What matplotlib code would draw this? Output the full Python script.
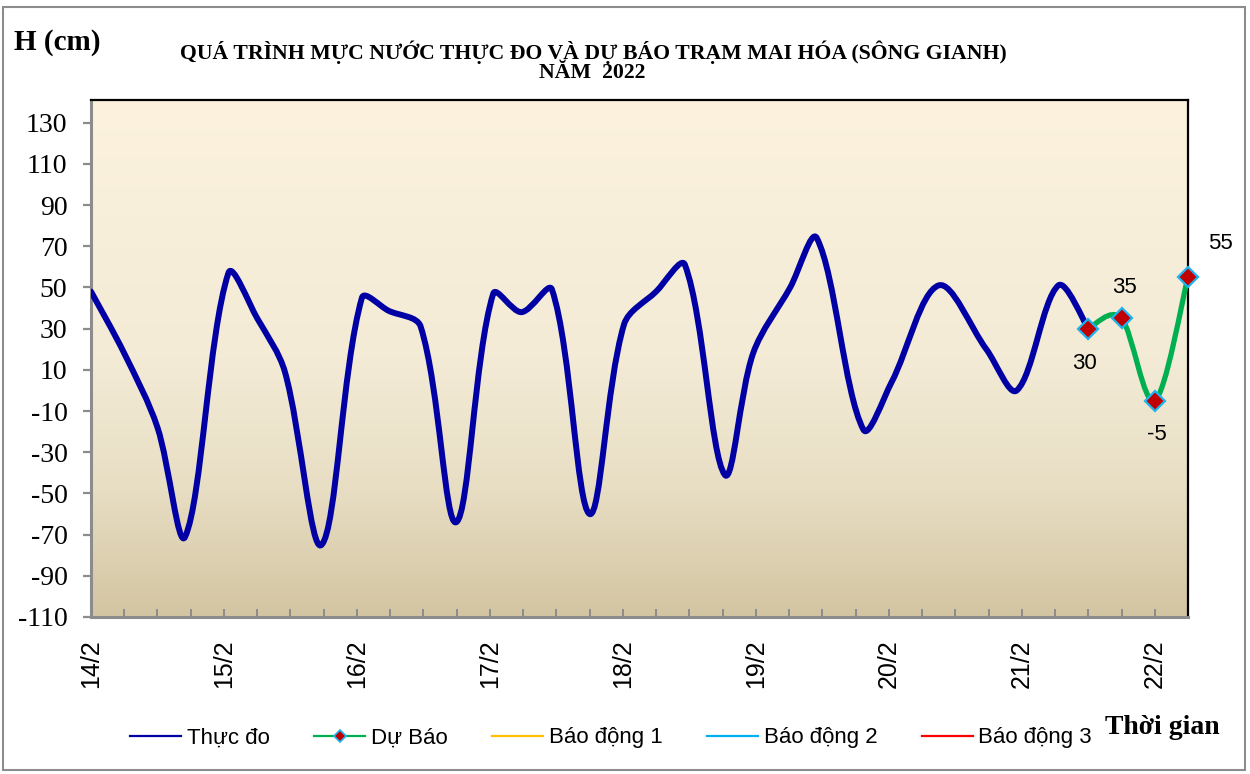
import numpy as np
import matplotlib
matplotlib.use("Agg")
import matplotlib.pyplot as plt
from matplotlib.path import Path
from matplotlib.patches import PathPatch, Rectangle
from matplotlib.lines import Line2D
from matplotlib.colors import LinearSegmentedColormap

# ---------------- data ----------------
# time in hours from 14/2 00:00
obs_hours = [0, 6, 12, 17, 24.8, 30, 35, 41.6, 48.9, 53.7, 59.5, 65.9, 72.6, 77.7,
             83.2, 90, 96.2, 102, 107.2, 114.4, 119.5, 126.2, 131, 139.4, 144.5,
             153, 161.6, 167.1, 174.6, 180]
obs_values = [48, 18, -18, -71, 57, 35, 9, -75, 45, 38.7, 31, -64, 47, 38, 49, -60,
              32, 48, 61, -41, 18, 50, 74, -19, 4, 51, 20, 0, 51, 30]

fc_hours = [180, 186, 192, 198]
fc_values = [30, 35, -5, 55]

day_labels = ["14/2", "15/2", "16/2", "17/2", "18/2", "19/2", "20/2", "21/2", "22/2"]
y_ticks = [130, 110, 90, 70, 50, 30, 10, -10, -30, -50, -70, -90, -110]

legend_labels = ["Thực đo", "Dự Báo", "Báo động 1", "Báo động 2", "Báo động 3"]

title1 = "QUÁ TRÌNH MỰC NƯỚC THỰC ĐO VÀ DỰ BÁO TRẠM MAI HÓA (SÔNG GIANH)"
title2 = "NĂM  2022"

SERIF = ["Liberation Serif", "DejaVu Serif"]
SANS = ["Liberation Sans", "DejaVu Sans"]


def smooth_path(ax, xs, ys, f=1.0 / 6.0, weighted=True):
    """Excel-like smoothed line: cubic Bezier through the points."""
    pts = np.column_stack([xs, ys]).astype(float)
    disp = ax.transData.transform(pts)
    n = len(pts)
    dist = np.hypot(*np.diff(disp, axis=0).T)  # segment lengths in pixels

    def handle(i, seg):
        p_prev = pts[i - 1] if i > 0 else pts[i]
        p_next = pts[i + 1] if i < n - 1 else pts[i]
        scale = 1.0
        if weighted:
            d_prev = dist[i - 1] if i > 0 else dist[i]
            d_next = dist[i] if i < n - 1 else dist[i - 1]
            tot = d_prev + d_next
            scale = 2.0 * dist[seg] / tot if tot > 0 else 1.0
        return (p_next - p_prev) * f * scale

    verts = [pts[0]]
    codes = [Path.MOVETO]
    for i in range(n - 1):
        c1 = pts[i] + handle(i, i)
        c2 = pts[i + 1] - handle(i + 1, i)
        verts += [c1, c2, pts[i + 1]]
        codes += [Path.CURVE4] * 3
    return Path(verts, codes)


W, H = 1250, 774
fig = plt.figure(figsize=(W / 100, H / 100), dpi=100)
fig.patch.set_facecolor("white")

# outer border
fig.patches.append(Rectangle((3 / W, 1 - 770 / H), 1242 / W, 763 / H,
                             transform=fig.transFigure, fill=False,
                             edgecolor="#8c8c8c", lw=1.5))

ax = fig.add_axes([91 / W, 1 - 617 / H, (1188 - 91) / W, (617 - 100) / H])
ax.set_xlim(0, 198)
ax.set_ylim(-110, 141)

# gradient background (top light cream -> bottom tan)
cmap = LinearSegmentedColormap.from_list(
    "bg", [(0.0, (252/255, 242/255, 222/255)),
           (0.5, (243/255, 235/255, 214/255)),
           (0.75, (232/255, 222/255, 196/255)),
           (1.0, (211/255, 197/255, 161/255))])
grad = np.linspace(0, 1, 256).reshape(-1, 1)
ax.imshow(grad, extent=[0, 1, 0, 1], origin="upper", transform=ax.transAxes,
          aspect="auto", cmap=cmap, zorder=0, interpolation="bicubic")

# observed line
ax.add_patch(PathPatch(smooth_path(ax, obs_hours, obs_values), facecolor="none",
                       edgecolor="#0000A5", lw=4.3, capstyle="round",
                       joinstyle="round", zorder=3))
# forecast line
ax.add_patch(PathPatch(smooth_path(ax, fc_hours, fc_values, weighted=False),
                       facecolor="none", edgecolor="#00B050", lw=3.8,
                       capstyle="round", joinstyle="round", zorder=4))
ax.plot(fc_hours, fc_values, linestyle="none", marker="D", markersize=10,
        markerfacecolor="#C00000", markeredgecolor="#1EB4F0",
        markeredgewidth=1.6, zorder=5, clip_on=False)

# data labels
offsets = [(-3, -25), (2, 22), (1.5, -24), (23, 24)]
for h, v, off in zip(fc_hours, fc_values, offsets):
    ax.annotate(f"{v}", (h, v), xytext=off, textcoords="offset points",
                ha="center", va="center", fontsize=16, family=SANS,
                color="black", zorder=6, annotation_clip=False)

# spines
for s in ["left", "bottom"]:
    ax.spines[s].set_color("#8c8c8c")
    ax.spines[s].set_linewidth(2.2)
for s in ["top", "right"]:
    ax.spines[s].set_color("black")
    ax.spines[s].set_linewidth(1.6)

ax.set_yticks(y_ticks)
ax.set_yticklabels([str(t) for t in y_ticks], family=SERIF, fontsize=20)
ax.tick_params(axis="y", direction="out", length=6, width=1.6, color="#8c8c8c",
               pad=11)

ax.set_xticks([24 * i for i in range(len(day_labels))])
ax.set_xticklabels(day_labels, rotation=90, family=SANS, fontsize=18)
ax.set_xticks(np.arange(0, 199, 6), minor=True)
ax.tick_params(axis="x", which="both", direction="in", length=6, width=1.4,
               color="#8c8c8c", pad=16)

# titles and axis names
fig.text(593 / W, 1 - 52 / H, title1, ha="center", va="center",
         family=SERIF, fontweight="bold", fontsize=15.7)
fig.text(592 / W, 1 - 73 / H, title2, ha="center", va="center",
         family=SERIF, fontweight="bold", fontsize=15.7)
fig.text(14 / W, 1 - 42 / H, "H (cm)", ha="left", va="center",
         family=SERIF, fontweight="bold", fontsize=21)
fig.text(1162 / W, 1 - 727 / H, "Thời gian", ha="center", va="center",
         family=SERIF, fontweight="bold", fontsize=20)

# legend
handles = [
    Line2D([], [], color="#0000A5", lw=1.6),
    Line2D([], [], color="#00B050", lw=1.6, marker="D", markersize=6,
           markerfacecolor="#C00000", markeredgecolor="#1EB4F0", markeredgewidth=1.2),
    Line2D([], [], color="#FFC000", lw=1.6),
    Line2D([], [], color="#00B0F0", lw=1.6),
    Line2D([], [], color="#FF0000", lw=1.6),
]
leg = fig.legend(handles, legend_labels, loc="center",
                 bbox_to_anchor=(611 / W, 1 - 738 / H), ncol=5, frameon=False,
                 prop={"family": SANS, "size": 16}, handlelength=2.3,
                 handletextpad=0.25, columnspacing=2.0)

fig.savefig("out.png", dpi=100, facecolor="white")
